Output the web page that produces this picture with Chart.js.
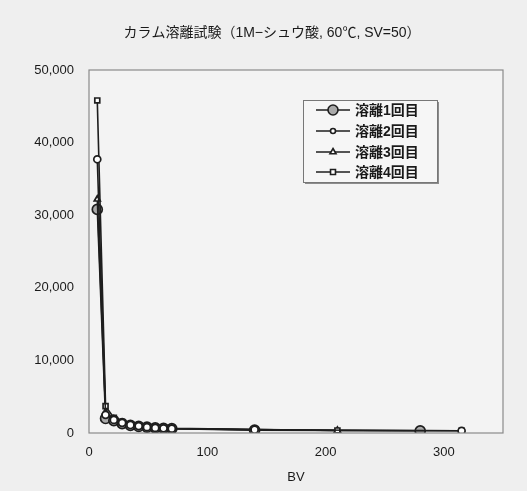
<!DOCTYPE html>
<html>
<head>
<meta charset="utf-8">
<script src="https://cdn.jsdelivr.net/npm/chart.js@4"></script>
<style>
  html, body { margin: 0; padding: 0; background: #efefef; }
  #wrap { width: 527px; height: 491px; }
</style>
</head>
<body>
<div id="wrap"><canvas id="myChart"></canvas></div>
<script>
const FONT = "'Liberation Sans', 'Noto Sans CJK JP', sans-serif";

const titleText = 'カラム溶離試験（1M−シュウ酸, 60℃, SV=50）';
const seriesNames = ['溶離1回目', '溶離2回目', '溶離3回目', '溶離4回目'];

// BV (x) and concentration (y) per elution run
const bv1 = [7, 14, 21, 28, 35, 42, 49, 56, 63, 70, 140, 280];
const val1 = [30800, 2000, 1700, 1300, 1050, 900, 800, 700, 650, 600, 400, 300];
const bv2 = [7, 14, 21, 28, 35, 42, 49, 56, 63, 70, 140, 315];
const val2 = [37700, 2500, 1800, 1400, 1100, 950, 800, 700, 650, 600, 450, 300];
const bv3 = [7, 14, 21, 28, 35, 42, 49, 56, 63, 70, 210];
const val3 = [32200, 2900, 1900, 1400, 1100, 950, 800, 700, 650, 600, 350];
const bv4 = [7, 14, 21, 28, 35, 42, 49, 56, 63, 70, 210, 315];
const val4 = [45800, 3700, 2100, 1500, 1200, 1000, 850, 750, 700, 650, 350, 300];

const xTicks = [0, 100, 200, 300];
const yTicks = [0, 10000, 20000, 30000, 40000, 50000];

function pts(xs, ys) {
  return xs.map((x, i) => ({ x: x, y: ys[i] }));
}

const styles = [
  { pointStyle: 'circle', radius: 5, bg: '#a9a9a9', order: 4 },
  { pointStyle: 'circle', radius: 3.5, bg: '#ffffff', order: 1 },
  { pointStyle: 'triangle', radius: 3.5, bg: '#ffffff', order: 3 },
  { pointStyle: 'rect', radius: 3.5, bg: '#ffffff', order: 2 }
];

const allData = [pts(bv1, val1), pts(bv2, val2), pts(bv3, val3), pts(bv4, val4)];

const datasets = allData.map((d, i) => ({
  label: seriesNames[i],
  data: d,
  order: styles[i].order,
  showLine: true,
  borderColor: '#1e1e1e',
  borderWidth: 1.6,
  pointStyle: styles[i].pointStyle,
  pointRadius: styles[i].radius,
  pointBackgroundColor: styles[i].bg,
  pointBorderColor: '#1e1e1e',
  pointBorderWidth: 1.7
}));

// background, plot border and title
const frame = {
  id: 'frame',
  beforeDraw(chart) {
    const c = chart.ctx;
    c.save();
    c.fillStyle = '#efefef';
    c.fillRect(0, 0, chart.width, chart.height);
    const a = chart.chartArea;
    c.fillStyle = '#f3f3f3';
    c.fillRect(a.left, a.top, a.right - a.left, a.bottom - a.top);
    c.restore();
  },
  afterDatasetsDraw(chart) {
    const c = chart.ctx;
    const a = chart.chartArea;
    c.save();
    c.strokeStyle = '#8a8a8a';
    c.lineWidth = 1.2;
    c.strokeRect(a.left, a.top, a.right - a.left, a.bottom - a.top);
    c.fillStyle = '#1a1a1a';
    c.font = '14px ' + FONT;
    c.textAlign = 'center';
    c.textBaseline = 'middle';
    c.fillText(titleText, 272, 33);
    c.restore();
  }
};

// legend box inside the plot, top right
const boxLegend = {
  id: 'boxLegend',
  afterDraw(chart) {
    const c = chart.ctx;
    const x0 = 303, y0 = 100, w = 134, h = 82;
    c.save();
    c.fillStyle = '#8c8c8c';
    c.fillRect(x0 + 2, y0 + 2, w, h);
    c.fillStyle = '#f6f6f6';
    c.fillRect(x0, y0, w, h);
    c.strokeStyle = '#777';
    c.lineWidth = 1;
    c.strokeRect(x0 + 0.5, y0 + 0.5, w, h);
    const rows = [110, 131, 152, 172];
    rows.forEach((y, i) => {
      c.strokeStyle = '#1e1e1e';
      c.lineWidth = 1.6;
      c.beginPath();
      c.moveTo(316, y);
      c.lineTo(350, y);
      c.stroke();
      c.fillStyle = styles[i].bg;
      c.strokeStyle = '#1e1e1e';
      Chart.helpers.drawPoint(c, {
        pointStyle: styles[i].pointStyle,
        radius: i === 1 ? 2.5 : styles[i].radius,
        borderWidth: 1.5
      }, 333, y);
      c.fillStyle = '#1a1a1a';
      c.font = 'bold 14px ' + FONT;
      c.textBaseline = 'middle';
      c.textAlign = 'left';
      c.fillText(seriesNames[i], 355, y + 1);
    });
    c.restore();
  }
};

new Chart(document.getElementById('myChart'), {
  type: 'scatter',
  data: { datasets: datasets },
  options: {
    responsive: true,
    maintainAspectRatio: false,
    animation: false,
    layout: { padding: { left: 0, right: 24, top: 70, bottom: 6 } },
    plugins: {
      legend: { display: false },
      tooltip: { enabled: false },
      title: { display: false }
    },
    scales: {
      x: {
        type: 'linear',
        min: 0,
        max: 350,
        afterBuildTicks(scale) {
          scale.ticks = xTicks.map(v => ({ value: v }));
        },
        afterFit(scale) { scale.height = 52; },
        grid: { display: false, drawTicks: false },
        border: { display: false },
        ticks: {
          color: '#1a1a1a',
          padding: 12,
          font: { family: FONT, size: 13 }
        },
        title: {
          display: true,
          text: 'BV',
          color: '#1a1a1a',
          font: { family: FONT, size: 13 },
          padding: { top: 4, bottom: 0 }
        }
      },
      y: {
        min: 0,
        max: 50000,
        afterBuildTicks(scale) {
          scale.ticks = yTicks.map(v => ({ value: v }));
        },
        afterFit(scale) { scale.width = 89; },
        grid: { display: false, drawTicks: false },
        border: { display: false },
        ticks: {
          color: '#1a1a1a',
          padding: 15,
          font: { family: FONT, size: 13 },
          callback: v => v.toLocaleString('en-US')
        }
      }
    }
  },
  plugins: [frame, boxLegend]
});
</script>
</body>
</html>
